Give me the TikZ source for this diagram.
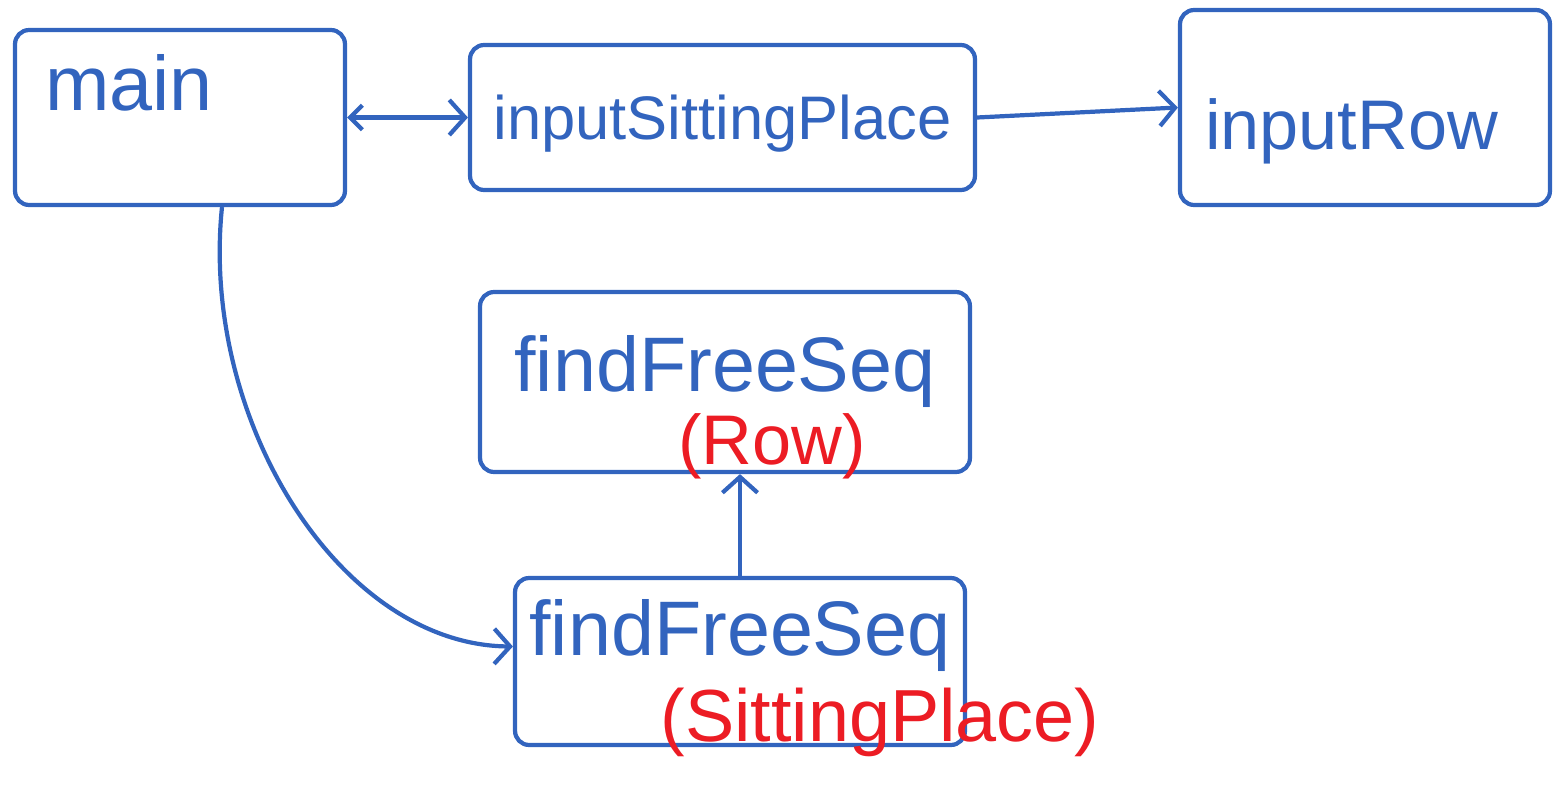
\documentclass[tikz,border=0pt]{standalone}
\usepackage{fontspec}
\setmainfont{Liberation Sans}
\usetikzlibrary{arrows.meta}
\definecolor{pen}{RGB}{50,100,190}
\definecolor{redpen}{RGB}{236,28,36}
\tikzset{
  box/.style={draw=pen, line width=2.4pt, rounded corners=8pt, text=pen, inner ysep=0pt, anchor=center},
  conn/.style={draw=pen, line width=2.4pt, -{Straight Barb[length=9pt,width=20pt,line width=2.4pt]}},
  biconn/.style={conn, {Straight Barb[length=7pt,width=14pt,line width=2.4pt]}-{Straight Barb[length=9pt,width=20pt,line width=2.4pt]}},
  param/.style={text=redpen, inner sep=0pt},
}
\newcommand{\fs}[1]{\fontsize{#1}{#1}\selectfont}
\begin{document}
\begin{tikzpicture}[x=0.02cm,y=-0.02cm]
\useasboundingbox (0,0) rectangle (1556,794);
\node[box, inner xsep=0.6cm, text width=5.4cm, align=left, text height=1.6cm, text depth=1.9cm, font=\fs{44}] (main) at (180,117.5) {main};
\node[box, inner xsep=0pt, text width=10.1cm, align=center, text height=1.9cm, text depth=1.0cm, font=\fs{35}] (isp) at (722.5,117.5) {inputSittingPlace};
\node[box, inner xsep=0.5cm, text width=6.4cm, align=left, text height=2.8cm, text depth=1.1cm, font=\fs{40}] (row) at (1365,107.5) {inputRow};
\node[box, inner xsep=0pt, text width=9.8cm, align=center, text height=2.0cm, text depth=1.6cm, font=\fs{44}] (frow) at (725,382) {findFreeSeq};
\node[param, font=\fs{40}] (prow) at (772,446) {(Row)};
\node[box, inner xsep=0pt, text width=9.0cm, align=center, text height=1.54cm, text depth=1.8cm, font=\fs{44}] (fsp) at (740,661.5) {findFreeSeq};
\node[param, font=\fs{42}] (psp) at (880,722) {(SittingPlace)};
\draw[biconn] (main.east) -- (isp.west);
\draw[conn] (isp.east) -- (row.west);
\draw[conn] ([xshift=0.84cm]main.south) .. controls (200,420) and (340,645) .. ([yshift=0.3cm]fsp.west);
\draw[conn] (fsp.north) -- (fsp.north |- frow.south);
\end{tikzpicture}
\end{document}
